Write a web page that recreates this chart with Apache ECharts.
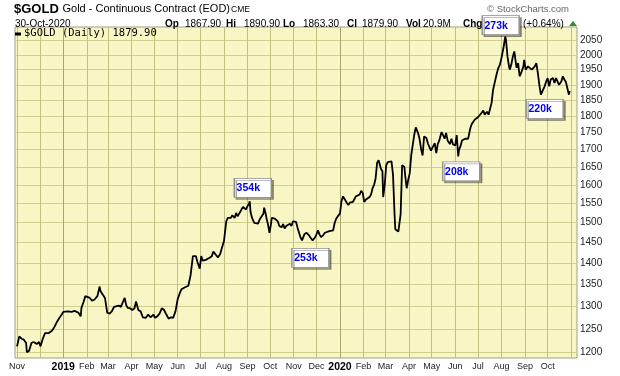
<!DOCTYPE html>
<html>
<head>
    <meta charset="utf-8">
    <title>$GOLD</title>
    <script src="https://cdn.jsdelivr.net/npm/echarts@6.0.0/dist/echarts.min.js"></script>
</head>
<body style="margin:0">
    <div id="main" style="width: 620px;height:376px;"></div>
    <script type="text/javascript">
        // daily close (one row per month)
        var dates = [
            '2018-11-01','2018-11-04','2018-11-07','2018-11-10','2018-11-13','2018-11-14','2018-11-17','2018-11-20','2018-11-23','2018-11-27','2018-11-30',
            '2018-12-02','2018-12-05','2018-12-08','2018-12-10','2018-12-13','2018-12-17','2018-12-20','2018-12-22','2018-12-24','2018-12-27','2018-12-30',
            '2019-01-01','2019-01-03','2019-01-07','2019-01-12','2019-01-16','2019-01-21','2019-01-24','2019-01-25','2019-01-28','2019-01-30',
            '2019-02-01','2019-02-05','2019-02-08','2019-02-11','2019-02-15','2019-02-18','2019-02-19','2019-02-22','2019-02-25','2019-02-28',
            '2019-03-03','2019-03-06','2019-03-09','2019-03-11','2019-03-15','2019-03-18','2019-03-21','2019-03-23','2019-03-25','2019-03-27','2019-03-30',
            '2019-04-02','2019-04-05','2019-04-07','2019-04-10','2019-04-13','2019-04-16','2019-04-20','2019-04-23','2019-04-26','2019-04-30',
            '2019-05-02','2019-05-05','2019-05-08','2019-05-11','2019-05-14','2019-05-17','2019-05-20','2019-05-23','2019-05-26','2019-05-29',
            '2019-06-01','2019-06-04','2019-06-06','2019-06-08','2019-06-10','2019-06-12','2019-06-15','2019-06-18','2019-06-21','2019-06-23','2019-06-25','2019-06-27','2019-06-30',
            '2019-07-02','2019-07-04','2019-07-06','2019-07-08','2019-07-10','2019-07-13','2019-07-16','2019-07-18','2019-07-21','2019-07-24','2019-07-27','2019-07-30',
            '2019-08-01','2019-08-04','2019-08-06','2019-08-08','2019-08-10','2019-08-12','2019-08-15','2019-08-17','2019-08-19','2019-08-21','2019-08-23','2019-08-26','2019-08-28','2019-08-30',
            '2019-09-01','2019-09-03','2019-09-04','2019-09-05','2019-09-07','2019-09-10','2019-09-11','2019-09-15','2019-09-17','2019-09-19','2019-09-22','2019-09-23','2019-09-25','2019-09-26','2019-09-28','2019-09-30',
            '2019-10-02','2019-10-03','2019-10-07','2019-10-09','2019-10-11','2019-10-13','2019-10-16','2019-10-18','2019-10-20','2019-10-22','2019-10-24','2019-10-27','2019-10-29','2019-10-31',
            '2019-11-02','2019-11-04','2019-11-06','2019-11-08','2019-11-10','2019-11-12','2019-11-15','2019-11-18','2019-11-21','2019-11-23','2019-11-26','2019-11-29',
            '2019-12-01','2019-12-03','2019-12-05','2019-12-07','2019-12-10','2019-12-12','2019-12-14','2019-12-18','2019-12-23','2019-12-25','2019-12-27','2019-12-29',
            '2020-01-01','2020-01-03','2020-01-05','2020-01-07','2020-01-10','2020-01-12','2020-01-14','2020-01-18','2020-01-20','2020-01-22','2020-01-24','2020-01-27','2020-01-29','2020-01-31',
            '2020-02-02','2020-02-04','2020-02-06','2020-02-09','2020-02-11','2020-02-13','2020-02-15','2020-02-17','2020-02-19','2020-02-21','2020-02-24','2020-02-26','2020-02-27','2020-02-29',
            '2020-03-02','2020-03-04','2020-03-06','2020-03-09','2020-03-11','2020-03-13','2020-03-14','2020-03-16','2020-03-18','2020-03-20','2020-03-21','2020-03-23','2020-03-26','2020-03-27','2020-03-29','2020-03-31',
            '2020-04-02','2020-04-04','2020-04-06','2020-04-08','2020-04-10','2020-04-13','2020-04-15','2020-04-17','2020-04-19','2020-04-21','2020-04-24','2020-04-26','2020-04-28','2020-04-30',
            '2020-05-02','2020-05-05','2020-05-07','2020-05-09','2020-05-11','2020-05-14','2020-05-16','2020-05-18','2020-05-20','2020-05-22','2020-05-25','2020-05-27','2020-05-29',
            '2020-06-01','2020-06-03','2020-06-05','2020-06-06','2020-06-08','2020-06-10','2020-06-12','2020-06-14','2020-06-16','2020-06-18','2020-06-21','2020-06-23','2020-06-25','2020-06-27','2020-06-29',
            '2020-07-01','2020-07-03','2020-07-06','2020-07-08','2020-07-10','2020-07-13','2020-07-15','2020-07-17','2020-07-19','2020-07-21','2020-07-24','2020-07-26','2020-07-28','2020-07-30',
            '2020-08-01','2020-08-04','2020-08-06','2020-08-07','2020-08-09','2020-08-11','2020-08-12','2020-08-14','2020-08-16','2020-08-18','2020-08-20','2020-08-21','2020-08-23','2020-08-25','2020-08-27','2020-08-30','2020-08-31',
            '2020-09-02','2020-09-03','2020-09-05','2020-09-07','2020-09-10','2020-09-12','2020-09-14','2020-09-16','2020-09-18','2020-09-20','2020-09-22','2020-09-24','2020-09-27','2020-09-29',
            '2020-10-01','2020-10-03','2020-10-05','2020-10-08','2020-10-10','2020-10-12','2020-10-14','2020-10-16','2020-10-19','2020-10-21','2020-10-23','2020-10-25','2020-10-27','2020-10-29','2020-10-30'
        ];
        var closes = [
            1213,1234,1229,1227,1220,1201,1204,1220,1222,1218,1222,
            1213,1229,1241,1244,1241,1246,1253,1255,1266,1274,1281,
            1287,1285,1288,1287,1289,1285,1277,1296,1310,1322,
            1320,1318,1312,1314,1322,1344,1334,1326,1318,1285,
            1283,1288,1298,1295,1301,1298,1310,1318,1302,1296,1295,
            1291,1295,1310,1291,1288,1275,1274,1281,1275,1281,
            1274,1277,1283,1295,1291,1281,1272,1275,1274,1288,
            1316,1330,1338,1334,1342,1338,1346,1371,1416,1412,1416,1402,1386,
            1416,1405,1402,1407,1410,1412,1416,1427,1420,1413,1421,1441,
            1453,1503,1512,1514,1512,1519,1512,1525,1516,1514,1530,1541,1546,1534,
            1543,1549,1556,1528,1512,1499,1503,1497,1508,1503,1523,1539,1523,1512,1496,1474,
            1496,1512,1510,1505,1503,1491,1488,1496,1485,1491,1488,1497,1491,1503,
            1505,1502,1487,1483,1462,1455,1470,1474,1468,1462,1455,1462,
            1470,1480,1470,1463,1468,1474,1477,1478,1480,1499,1510,1516,
            1523,1556,1569,1572,1552,1546,1552,1554,1558,1569,1567,1574,1584,1578,
            1554,1560,1558,1567,1574,1591,1600,1618,1662,1669,1645,1638,1567,1600,
            1655,1664,1669,1666,1627,1521,1483,1483,1477,1480,1521,1655,1650,1627,1591,1614,
            1632,1683,1688,1744,1766,1749,1731,1702,1683,1739,1734,1718,1707,1697,
            1702,1719,1690,1716,1727,1752,1743,1732,1749,1727,1716,1732,1716,
            1712,1743,1680,1699,1710,1727,1723,1732,1727,1732,1764,1777,1775,1790,1785,
            1797,1793,1811,1818,1805,1814,1805,1805,1842,1884,1917,1939,1956,1967,
            1989,2029,2064,2052,1994,1961,1950,1967,1994,2012,1972,1956,1972,1928,1939,1961,1983,
            1950,1944,1961,1967,1950,1956,1961,1972,1939,1900,1868,1866,1895,1911,
            1922,1895,1917,1922,1906,1922,1924,1900,1911,1928,1917,1909,1911,1868,1879.9
        ];

        // price grid (right-hand scale)
        var priceTicks = [1200,1250,1300,1350,1400,1450,1500,1550,1600,1650,1700,1750,1800,1850,1900,1950,2000,2050];

        // month grid lines and month labels
        var gridMonths = [
            '2018-11-01','2018-12-01','2019-01-01','2019-02-01','2019-03-01','2019-04-01','2019-05-01','2019-06-01',
            '2019-07-01','2019-08-01','2019-09-01','2019-10-01','2019-11-01','2019-12-01','2020-01-01','2020-02-01',
            '2020-03-01','2020-04-01','2020-05-01','2020-06-01','2020-07-01','2020-08-01','2020-09-01','2020-10-01','2020-11-01'
        ];
        var labelMonths = [
            '2018-11-01','2019-01-01','2019-02-01','2019-03-01','2019-04-01','2019-05-01','2019-06-01',
            '2019-07-01','2019-08-01','2019-09-01','2019-10-01','2019-11-01','2019-12-01','2020-01-01','2020-02-01',
            '2020-03-01','2020-04-01','2020-05-01','2020-06-01','2020-07-01','2020-08-01','2020-09-01','2020-10-01'
        ];
        var monthNames = ['Jan','Feb','Mar','Apr','May','Jun','Jul','Aug','Sep','Oct','Nov','Dec'];

        // volume notes
        var noteLabels = ['354k','253k','208k','273k','220k'];
        var noteDates = ['2019-09-08','2019-11-23','2020-06-09','2020-07-31','2020-09-27'];
        var notePrices = [1592, 1412, 1638, 2102, 1823];

        var yMin = 1189, yMax = 2098;
        var xMin = +new Date(2018, 9, 29, 8);
        var xMax = +new Date(2020, 10, 8, 16);

        var myChart = echarts.init(document.getElementById('main'));

        var headFont = '"Liberation Sans", Arial, sans-serif';
        var gridColor = '#d1cf8e';
        var monthColor = '#c2c07f';
        var yearColor = '#a9a76d';
        var priceData = dates.map(function (d, i) { return [d, closes[i]]; });

        var gridLines = [];
        priceTicks.forEach(function (v) {
            gridLines.push({
                yAxis: v,
                lineStyle: { color: gridColor, width: 1, type: 'solid' },
                label: { show: true, position: 'end', distance: 3, formatter: String(v) }
            });
        });
        gridMonths.forEach(function (d) {
            var isYear = d.slice(5, 7) === '01';
            var m = parseInt(d.slice(5, 7), 10) - 1;
            var item = {
                xAxis: d,
                lineStyle: { color: isYear ? yearColor : monthColor, width: 1, type: 'solid' }
            };
            if (labelMonths.indexOf(d) >= 0) {
                item.label = {
                    show: true,
                    position: 'start',
                    distance: 4,
                    formatter: isYear ? '{y|' + d.slice(0, 4) + '}' : monthNames[m],
                    fontSize: 9,
                    rich: { y: { fontSize: 10.5, fontWeight: 'bold', color: '#000', fontFamily: headFont } }
                };
            }
            gridLines.push(item);
        });

        var notes = noteLabels.map(function (t, i) {
            var p = notePrices[i];
            var over = p > yMax;
            return {
                name: t,
                coord: [noteDates[i], over ? 2090 : p],
                symbolOffset: [0, over ? -4 : 0]
            };
        });

        function txt(x, y, s, font, color) {
            return {
                type: 'text', x: x, y: y, z: 100,
                style: { text: s, font: font, fill: color || '#000', verticalAlign: 'middle' }
            };
        }

        option = {
            animation: false,
            grid: {
                left: 15, right: 43, top: 27, bottom: 18,
                outerBoundsMode: 'none',
                show: true,
                backgroundColor: '#f9f6c6',
                borderColor: '#9f9f7f',
                borderWidth: 1
            },
            xAxis: {
                type: 'time',
                min: xMin,
                max: xMax,
                axisLine: { show: false },
                axisTick: { show: false },
                splitLine: { show: false },
                axisLabel: { show: false }
            },
            yAxis: {
                type: 'log',
                logBase: 10,
                min: yMin,
                max: yMax,
                axisLine: { show: false },
                axisTick: { show: false },
                axisLabel: { show: false },
                splitLine: { show: false }
            },
            series: [
                {
                    // carries the grid lines and axis labels only
                    type: 'line',
                    z: 1,
                    silent: true,
                    symbol: 'none',
                    lineStyle: { opacity: 0 },
                    data: priceData,
                    markLine: {
                        z: 1,
                        silent: true,
                        symbol: 'none',
                        animation: false,
                        lineStyle: { color: gridColor, width: 1, type: 'solid', opacity: 1 },
                        label: {
                            show: false,
                            color: '#222',
                            fontSize: 10,
                            fontFamily: headFont
                        },
                        emphasis: { disabled: true },
                        data: gridLines
                    }
                },
                {
                    name: '$GOLD',
                    type: 'line',
                    z: 3,
                    symbol: 'none',
                    lineStyle: { color: '#000', width: 1.8 },
                    data: priceData,
                    markPoint: {
                        z: 6,
                        symbol: 'rect',
                        symbolSize: [37, 19],
                        itemStyle: {
                            color: '#fff',
                            borderColor: '#8c8c8c',
                            borderWidth: 1,
                            shadowColor: 'rgba(0,0,0,0.35)',
                            shadowBlur: 0,
                            shadowOffsetX: 2,
                            shadowOffsetY: 2
                        },
                        label: {
                            show: true,
                            position: 'inside',
                            offset: [-4.5, 0.5],
                            formatter: '{b}',
                            color: '#0000ee',
                            fontWeight: 'bold',
                            fontSize: 10.5,
                            fontFamily: headFont
                        },
                        data: notes
                    }
                }
            ],
            graphic: [
                txt(14, 9, '$GOLD', 'bold 13px ' + headFont),
                txt(62.5, 9, 'Gold - Continuous Contract (EOD)', '11px ' + headFont),
                txt(231, 9.5, 'CME', '8.5px ' + headFont),
                txt(487, 9, '\u00a9 StockCharts.com', '9.5px ' + headFont, '#666'),
                txt(15, 24, '30-Oct-2020', '10px ' + headFont),
                txt(165, 24, 'Op', 'bold 10px ' + headFont),
                txt(185, 24, '1867.90', '10px ' + headFont),
                txt(226, 24, 'Hi', 'bold 10px ' + headFont),
                txt(244, 24, '1890.90', '10px ' + headFont),
                txt(283, 24, 'Lo', 'bold 10px ' + headFont),
                txt(303, 24, '1863.30', '10px ' + headFont),
                txt(347, 24, 'Cl', 'bold 10px ' + headFont),
                txt(362, 24, '1879.90', '10px ' + headFont),
                txt(406, 24, 'Vol', 'bold 10px ' + headFont),
                txt(423, 24, '20.9M', '10px ' + headFont),
                txt(463, 24, 'Chg', 'bold 10px ' + headFont),
                txt(523, 24, '(+0.64%)', '10px ' + headFont),
                {
                    type: 'polygon', z: 100,
                    shape: { points: [[569, 26], [577, 26], [573, 21]] },
                    style: { fill: '#2f8f2f' }
                },
                // legend
                {
                    type: 'rect', z: 100,
                    shape: { x: 15, y: 32.5, width: 6, height: 3 },
                    style: { fill: '#000' }
                },
                txt(24, 33.5, '$GOLD (Daily) 1879.90', '10.5px "DejaVu Sans Mono", monospace')
            ]
        };

        myChart.setOption(option);
    </script>
</body>
</html>
